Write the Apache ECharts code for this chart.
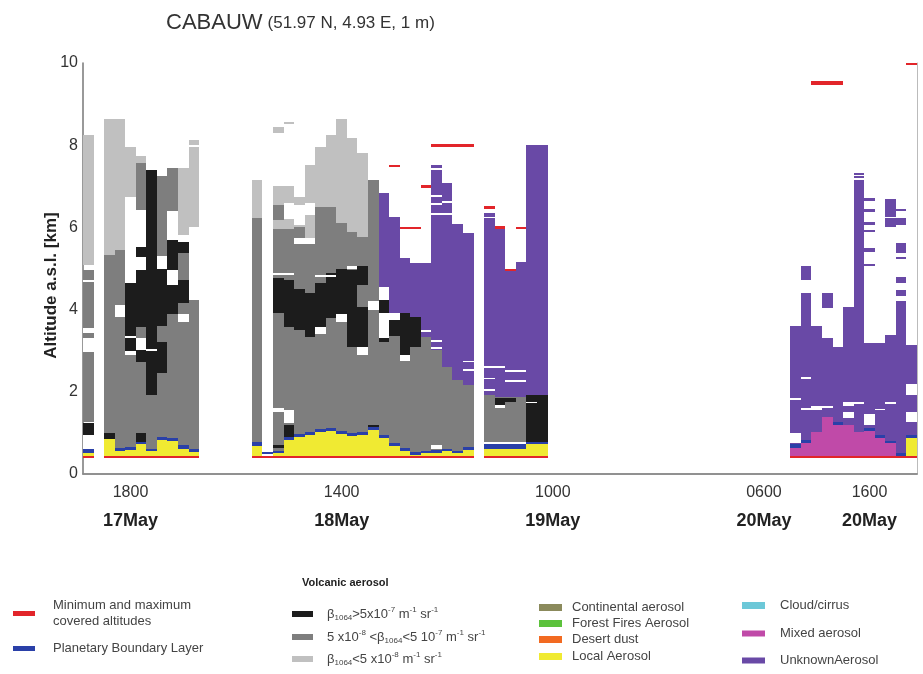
<!DOCTYPE html>
<html>
<head>
<meta charset="utf-8">
<script src="https://cdn.jsdelivr.net/npm/echarts@6/dist/echarts.min.js"></script>
<style>
  html, body { margin: 0; padding: 0; background: #fff; }
  #chart { width: 923px; height: 674px; }
</style>
</head>
<body>
<div id="chart"></div>
<script>
// hourly profiles, 17May 14:00 .. 20May 20:00
const hourLabels = [];
for (let i = 0; i < 79; i++) {
  const t = 14 + i;
  hourLabels.push((17 + Math.floor(t / 24)) + 'May ' + String(t % 24).padStart(2, '0') + '00');
}
const tickIndex = [4, 14, 24, 34, 44, 54, 64, 74];
const labelIndex = [4, 24, 44, 64, 74];
const labelTime = ['1800', '1400', '1000', '0600', '1600'];
const labelDate = ['17May', '18May', '19May', '20May', '20May'];

// layers: [first column, last column, bottom km, top km]
const lightGray = [
  [0, 0, 5.09, 8.25], [2, 2, 5.33, 8.63], [3, 3, 5.45, 8.63], [4, 4, 6.75, 7.96],
  [5, 5, 7.56, 7.74], [9, 9, 5.82, 7.44], [10, 10, 6.02, 8.13],
  [16, 16, 6.22, 7.15], [18, 18, 8.29, 8.45], [19, 19, 8.52, 8.56],
  [18, 19, 5.95, 7.0], [20, 20, 6.0, 6.75], [21, 21, 5.6, 7.52], [22, 22, 6.5, 7.96],
  [23, 23, 6.5, 8.25], [24, 24, 6.1, 8.63], [25, 25, 5.9, 8.17], [26, 26, 5.77, 7.8]
];
const darkGray = [
  [0, 0, 1.27, 4.96], [2, 2, 1.0, 5.33], [3, 3, 0.63, 5.45], [4, 4, 0.66, 4.64],
  [5, 5, 1.0, 7.56], [6, 6, 0.62, 1.92], [7, 7, 0.9, 7.24], [8, 8, 0.88, 7.45],
  [9, 9, 0.7, 5.82], [10, 10, 0.6, 4.23],
  [16, 16, 0.79, 6.22], [18, 18, 0.57, 5.95], [18, 18, 6.18, 6.54], [19, 19, 0.89, 5.95],
  [20, 20, 0.98, 6.0], [21, 21, 1.02, 5.6], [22, 22, 1.1, 6.5], [23, 23, 1.12, 6.5],
  [24, 24, 1.05, 6.1], [25, 25, 0.99, 5.9], [26, 26, 1.02, 5.77], [27, 27, 1.15, 7.15],
  [28, 28, 0.95, 4.56], [29, 29, 0.75, 3.91], [30, 30, 0.63, 3.91], [31, 31, 0.54, 3.83],
  [32, 32, 0.57, 3.34], [33, 33, 0.59, 3.02], [34, 34, 0.62, 2.61], [35, 35, 0.57, 2.29],
  [36, 36, 0.65, 2.17], [38, 38, 0.78, 1.92], [39, 41, 0.78, 1.88]
];
const blackLayer = [
  [0, 0, 0.95, 1.25], [2, 2, 0.85, 1.0], [4, 4, 3.0, 4.64], [5, 5, 5.29, 5.53],
  [5, 5, 3.58, 4.96], [5, 5, 2.73, 3.02], [5, 5, 0.78, 1.0], [6, 6, 1.92, 7.4],
  [7, 7, 3.6, 5.0], [7, 7, 2.45, 3.2], [8, 8, 4.96, 5.69], [8, 8, 3.9, 4.6],
  [9, 9, 5.37, 5.65], [9, 9, 4.15, 4.72],
  [18, 18, 3.91, 4.76], [18, 18, 0.63, 0.71], [19, 19, 3.58, 4.72], [19, 19, 0.91, 1.19],
  [20, 20, 3.5, 4.5], [21, 21, 3.34, 4.4], [22, 22, 3.58, 4.64], [23, 23, 3.8, 4.9],
  [24, 24, 3.9, 5.0], [25, 25, 3.1, 4.96], [26, 26, 3.1, 4.07], [26, 26, 4.6, 5.05],
  [27, 27, 1.11, 1.19], [28, 28, 3.91, 4.23], [28, 28, 3.2, 3.3], [29, 29, 3.35, 3.75],
  [30, 30, 2.9, 3.91], [31, 31, 3.1, 3.83],
  [39, 39, 1.68, 1.84], [40, 40, 1.75, 1.85], [42, 43, 0.79, 1.92]
];
const unknownAerosol = [
  [28, 28, 4.56, 6.83], [29, 29, 3.91, 6.26], [30, 30, 3.91, 5.25], [31, 31, 3.83, 5.13],
  [32, 32, 3.34, 5.13], [33, 33, 3.02, 7.4], [33, 33, 7.45, 7.52], [34, 34, 2.61, 7.07],
  [35, 35, 2.29, 6.14], [36, 36, 2.17, 5.86],
  [38, 38, 6.26, 6.34], [38, 38, 1.92, 6.22], [39, 39, 1.88, 6.0], [40, 40, 1.88, 4.96],
  [41, 41, 1.88, 5.17], [42, 43, 1.92, 8.0],
  [67, 67, 0.72, 3.6], [68, 68, 0.82, 4.4], [68, 68, 4.72, 5.06], [69, 69, 1.03, 3.6],
  [70, 70, 1.39, 3.3], [70, 70, 4.03, 4.4], [71, 71, 1.23, 3.1], [72, 72, 1.19, 4.07],
  [73, 73, 1.03, 7.15], [73, 73, 7.2, 7.25], [73, 73, 7.28, 7.33],
  [74, 74, 1.1, 3.18], [74, 74, 6.65, 6.72], [74, 74, 6.38, 6.44], [74, 74, 6.05, 6.14],
  [74, 74, 5.88, 5.93], [74, 74, 5.4, 5.5], [74, 74, 5.05, 5.12],
  [75, 75, 0.91, 3.18], [76, 76, 0.78, 3.38], [76, 76, 6.26, 6.7], [76, 76, 6.02, 6.22],
  [77, 77, 0.5, 4.2], [77, 77, 6.4, 6.45], [77, 77, 6.06, 6.22], [77, 77, 5.37, 5.61],
  [77, 77, 5.23, 5.28], [77, 77, 4.64, 4.8], [77, 77, 4.32, 4.48], [78, 78, 0.95, 3.14]
];
const mixedAerosol = [
  [67, 67, 0.44, 0.63], [68, 68, 0.44, 0.75], [69, 69, 0.44, 1.03], [70, 70, 0.44, 1.39],
  [71, 71, 0.44, 1.2], [72, 72, 0.44, 1.19], [73, 73, 0.44, 1.03], [74, 74, 0.44, 1.05],
  [75, 75, 0.44, 0.88], [76, 76, 0.44, 0.75], [77, 77, 0.44, 0.47]
];
const localAerosol = [
  [0, 0, 0.44, 0.5], [2, 2, 0.44, 0.85], [3, 3, 0.44, 0.56], [4, 4, 0.44, 0.58],
  [5, 5, 0.44, 0.72], [6, 6, 0.44, 0.55], [7, 7, 0.44, 0.83], [8, 8, 0.44, 0.8],
  [9, 9, 0.44, 0.6], [10, 10, 0.44, 0.53],
  [16, 16, 0.44, 0.67], [18, 18, 0.44, 0.5], [19, 19, 0.44, 0.82], [20, 20, 0.44, 0.91],
  [21, 21, 0.44, 0.95], [22, 22, 0.44, 1.03], [23, 23, 0.44, 1.05], [24, 24, 0.44, 0.98],
  [25, 25, 0.44, 0.92], [26, 26, 0.44, 0.95], [27, 27, 0.44, 1.08], [28, 28, 0.44, 0.88],
  [29, 29, 0.44, 0.68], [30, 30, 0.44, 0.56], [31, 31, 0.44, 0.47], [32, 32, 0.44, 0.5],
  [33, 33, 0.44, 0.52], [34, 34, 0.44, 0.55], [35, 35, 0.44, 0.5], [36, 36, 0.44, 0.58],
  [38, 41, 0.44, 0.6], [42, 43, 0.44, 0.72], [78, 78, 0.44, 0.87]
];
const continental = [];
const forestFires = [];
const desertDust = [];
const cloudCirrus = [];
const noData = [
  [0, 0, 2.98, 3.31], [0, 0, 3.43, 3.55], [0, 0, 4.68, 4.72], [0, 0, 0.62, 0.95],
  [3, 3, 3.83, 4.11], [4, 4, 2.9, 3.0], [5, 5, 5.53, 6.42], [5, 5, 4.96, 5.29],
  [5, 5, 3.02, 3.3], [7, 7, 5.0, 5.3], [8, 8, 5.69, 6.4], [8, 8, 4.6, 4.96],
  [9, 9, 3.7, 3.9], [9, 9, 5.65, 5.82], [10, 10, 7.95, 8.0], [6, 6, 3.0, 3.04], [4, 4, 3.3, 3.35],
  [19, 19, 6.2, 6.6], [20, 20, 6.05, 6.55], [21, 21, 6.3, 6.6], [20, 21, 5.6, 5.75],
  [18, 19, 4.85, 4.9], [22, 23, 4.8, 4.85], [25, 25, 5.0, 5.05], [19, 19, 1.23, 1.56],
  [18, 18, 1.5, 1.6], [22, 22, 3.4, 3.58],
  [24, 24, 3.7, 3.9], [26, 26, 2.9, 3.1], [27, 27, 4.0, 4.2], [28, 28, 4.23, 4.56],
  [28, 28, 3.3, 3.91], [29, 29, 3.75, 3.91], [30, 30, 2.75, 2.9], [33, 33, 0.62, 0.7],
  [33, 33, 6.75, 6.8], [33, 33, 6.55, 6.6], [33, 34, 6.3, 6.35], [34, 34, 6.6, 6.65],
  [35, 35, 6.08, 6.12], [32, 32, 3.45, 3.5], [33, 33, 3.2, 3.25], [33, 33, 3.05, 3.1],
  [36, 36, 2.5, 2.55], [36, 36, 2.72, 2.76],
  [38, 39, 2.58, 2.62], [38, 38, 2.3, 2.34], [38, 38, 2.03, 2.07], [40, 41, 2.48, 2.52],
  [40, 41, 2.24, 2.28], [39, 39, 1.6, 1.68], [42, 42, 1.72, 1.76],
  [67, 67, 0.75, 1.0], [67, 67, 1.8, 1.85], [68, 68, 1.55, 1.6], [68, 68, 2.31, 2.35],
  [69, 69, 1.55, 1.65], [70, 70, 1.6, 1.65], [72, 72, 1.65, 1.75], [72, 72, 1.36, 1.5],
  [73, 73, 1.7, 1.74], [74, 74, 1.2, 1.45], [75, 75, 1.55, 1.58], [76, 76, 1.7, 1.74],
  [78, 78, 1.92, 2.2], [78, 78, 1.27, 1.52]
];
const boundaryLayer = [
  [0, 0, 0.5, 0.6], [3, 3, 0.56, 0.63], [4, 4, 0.58, 0.66], [5, 5, 0.72, 0.78],
  [6, 6, 0.55, 0.62], [7, 7, 0.83, 0.9], [8, 8, 0.8, 0.88], [9, 9, 0.6, 0.7], [10, 10, 0.53, 0.6],
  [16, 16, 0.67, 0.79], [17, 17, 0.48, 0.54], [18, 18, 0.5, 0.57], [19, 19, 0.82, 0.89],
  [20, 20, 0.91, 0.98], [21, 21, 0.95, 1.02], [22, 22, 1.03, 1.1], [23, 23, 1.05, 1.12],
  [24, 24, 0.98, 1.05], [25, 25, 0.92, 0.99], [26, 26, 0.95, 1.02], [27, 27, 1.08, 1.15],
  [28, 28, 0.88, 0.95], [29, 29, 0.68, 0.75], [30, 30, 0.56, 0.63], [31, 31, 0.47, 0.54],
  [32, 32, 0.5, 0.57], [33, 33, 0.52, 0.59], [34, 34, 0.55, 0.62], [35, 35, 0.5, 0.57],
  [36, 36, 0.58, 0.65], [38, 41, 0.6, 0.72], [42, 43, 0.72, 0.79],
  [67, 67, 0.63, 0.72], [68, 68, 0.75, 0.82], [71, 71, 1.2, 1.26], [74, 74, 1.05, 1.12],
  [75, 75, 0.88, 0.94], [76, 76, 0.75, 0.8], [77, 77, 0.44, 0.5], [78, 78, 0.87, 0.95]
];
const minMaxAltitude = [
  [0, 0, 0.38, 0.44], [2, 10, 0.38, 0.44], [16, 36, 0.38, 0.44], [38, 43, 0.38, 0.44],
  [67, 78, 0.38, 0.44],
  [29, 29, 7.46, 7.53], [30, 31, 5.95, 6.02], [32, 32, 6.95, 7.02], [33, 36, 7.96, 8.03],
  [38, 38, 6.45, 6.53], [39, 39, 5.97, 6.03], [40, 40, 4.94, 5.0], [41, 41, 5.95, 6.01],
  [69, 71, 9.47, 9.57], [78, 78, 9.94, 10.0]
];

const FONT = '"Liberation Sans", Arial, sans-serif';

function renderItem(params, api) {
  const a = api.coord([api.value(0), api.value(3)]);
  const b = api.coord([api.value(1), api.value(2)]);
  const w = api.size([1, 0])[0];
  const x0 = Math.round(a[0] - w / 2), x1 = Math.round(b[0] + w / 2);
  const y0 = Math.round(a[1]), y1 = Math.round(b[1]);
  return {
    type: 'rect',
    shape: { x: x0, y: y0, width: x1 - x0, height: Math.max(1, y1 - y0) },
    style: { fill: api.visual('color') }
  };
}

function layer(name, color, data) {
  return {
    name: name, type: 'custom', renderItem: renderItem, data: data,
    dimensions: ['c0', 'c1', 'y0', 'y1'],
    encode: { x: [0, 1], y: [2, 3] },
    itemStyle: { color: color }, silent: true, animation: false
  };
}

const N_BLACK = 'b1', N_DARK = 'b2', N_LIGHT = 'b3';
const legendText = {
  'Minimum and maximum covered altitudes': '{n|Minimum and maximum}\n{n|covered altitudes}',
  b1: '{n|β}{sb|1064}{n|>5x10}{sp|-7}{n| m}{sp|-1}{n| sr}{sp|-1}',
  b2: '{n|5 x10}{sp|-8}{n| <β}{sb|1064}{n|<5 10}{sp|-7}{n| m}{sp|-1}{n| sr}{sp|-1}',
  b3: '{n|β}{sb|1064}{n|<5 x10}{sp|-8}{n| m}{sp|-1}{n| sr}{sp|-1}'
};
const legendItems = [
  ['Minimum and maximum covered altitudes', 13, 599, 13, 22, 5],
  ['Planetary Boundary Layer', 13, 642, 13, 22, 5],
  [N_BLACK, 292, 606, 9, 21, 6],
  [N_DARK, 292, 629, 9, 21, 6],
  [N_LIGHT, 292, 651, 9, 21, 6],
  ['Continental aerosol', 539, 601, 5, 23, 7],
  ['Forest Fires Aerosol', 539, 617, 5, 23, 7],
  ['Desert dust', 539, 633, 5, 23, 7],
  ['Local Aerosol', 539, 650, 5, 23, 7],
  ['Cloud/cirrus', 742, 599, 10, 23, 7],
  ['Mixed aerosol', 742, 627, 10, 23, 6],
  ['UnknownAerosol', 742, 654, 10, 23, 6]
];

const legends = legendItems.map(function (it) {
  return {
    data: [it[0]], left: it[1], top: it[2], orient: 'vertical', padding: 0,
    icon: 'rect', itemWidth: it[4], itemHeight: it[5], selectedMode: false,
    formatter: function (name) { return legendText[name] || ('{n|' + name + '}'); },
    textStyle: {
      padding: [0, 0, 0, it[3]],
      rich: {
        n: { fontSize: 13, lineHeight: 16, color: '#444', fontFamily: FONT },
        sb: { fontSize: 8, lineHeight: 10, verticalAlign: 'bottom', color: '#444', fontFamily: FONT },
        sp: { fontSize: 8, lineHeight: 10, verticalAlign: 'top', color: '#444', fontFamily: FONT }
      }
    }
  };
});

const chart = echarts.init(document.getElementById('chart'), null, { renderer: 'canvas' });
const frameColor = '#8a8a8a';
const tickStyle = { color: '#555', width: 1 };

chart.setOption({
  backgroundColor: '#fff',
  animation: false,
  title: [
    {
      text: '{a|CABAUW} {b|(51.97 N, 4.93 E, 1 m)}', left: 166, top: 12, padding: 0,
      textStyle: { fontWeight: 'normal', rich: {
        a: { fontSize: 22, fontWeight: 'normal', color: '#333', fontFamily: FONT },
        b: { fontSize: 17, fontWeight: 'normal', color: '#333', fontFamily: FONT }
      } }
    },
    {
      text: 'Volcanic aerosol', left: 302, top: 577, padding: 0,
      textStyle: { fontSize: 11, fontWeight: 'bold', color: '#222', fontFamily: FONT }
    }
  ],
  legend: legends,
  grid: { left: 83, right: 6, top: 63, bottom: 200, containLabel: false },
  xAxis: [
    {
      type: 'category', data: hourLabels, position: 'bottom', boundaryGap: true,
      axisLine: { lineStyle: { color: frameColor, width: 1.5 } },
      axisTick: {
        inside: true, length: 7, alignWithLabel: true, lineStyle: tickStyle,
        interval: function (i) { return tickIndex.indexOf(i) >= 0; }
      },
      axisLabel: {
        interval: function (i) { return labelIndex.indexOf(i) >= 0; },
        margin: 5,
        formatter: function (v, i) {
          const k = labelIndex.indexOf(i);
          return k < 0 ? '' : '{t|' + labelTime[k] + '}\n{d|' + labelDate[k] + '}';
        },
        rich: {
          t: { fontSize: 16, lineHeight: 28, color: '#333', fontFamily: FONT },
          d: { fontSize: 18, lineHeight: 28, fontWeight: 'bold', color: '#222', fontFamily: FONT }
        }
      },
      splitLine: { show: false }
    },
    {
      type: 'category', data: hourLabels, position: 'top', boundaryGap: true,
      axisLine: { lineStyle: { color: frameColor, width: 1.5 } },
      axisTick: {
        inside: true, length: 7, alignWithLabel: true, lineStyle: tickStyle,
        interval: function (i) { return tickIndex.indexOf(i) >= 0; }
      },
      axisLabel: { show: false },
      splitLine: { show: false }
    }
  ],
  yAxis: [
    {
      type: 'value', min: 0, max: 10, interval: 1, position: 'left',
      name: 'Altitude a.s.l. [km]', nameLocation: 'middle', nameGap: 23, nameMoveOverlap: false,
      nameTextStyle: { fontSize: 17, fontWeight: 'bold', color: '#222', fontFamily: FONT, padding: [0, 34, 0, 0] },
      axisLine: { show: true, lineStyle: { color: '#777', width: 1.5 } },
      axisTick: { inside: true, length: 7, lineStyle: tickStyle },
      axisLabel: {
        fontSize: 16, color: '#333', fontFamily: FONT, margin: 5,
        formatter: function (v) { return v % 2 === 0 ? String(v) : ''; }
      },
      splitLine: { show: false }
    },
    {
      type: 'value', min: 0, max: 10, interval: 1, position: 'right',
      axisLine: { show: true, lineStyle: { color: '#bbb', width: 1 } },
      axisTick: { inside: true, length: 7, lineStyle: tickStyle },
      axisLabel: { show: false },
      splitLine: { show: false }
    }
  ],
  series: [
    layer(N_LIGHT, '#c0c0c0', lightGray),
    layer(N_DARK, '#7e7e7e', darkGray),
    layer(N_BLACK, '#1c1c1c', blackLayer),
    layer('Continental aerosol', '#8b8a5c', continental),
    layer('Forest Fires Aerosol', '#5cc23c', forestFires),
    layer('Desert dust', '#f26a21', desertDust),
    layer('Cloud/cirrus', '#6cc8d8', cloudCirrus),
    layer('UnknownAerosol', '#6949a6', unknownAerosol),
    layer('Mixed aerosol', '#c04aa8', mixedAerosol),
    layer('Local Aerosol', '#f0ea32', localAerosol),
    layer('no data', '#ffffff', noData),
    layer('Planetary Boundary Layer', '#2a40a8', boundaryLayer),
    layer('Minimum and maximum covered altitudes', '#e2252a', minMaxAltitude)
  ]
});
</script>
</body>
</html>
